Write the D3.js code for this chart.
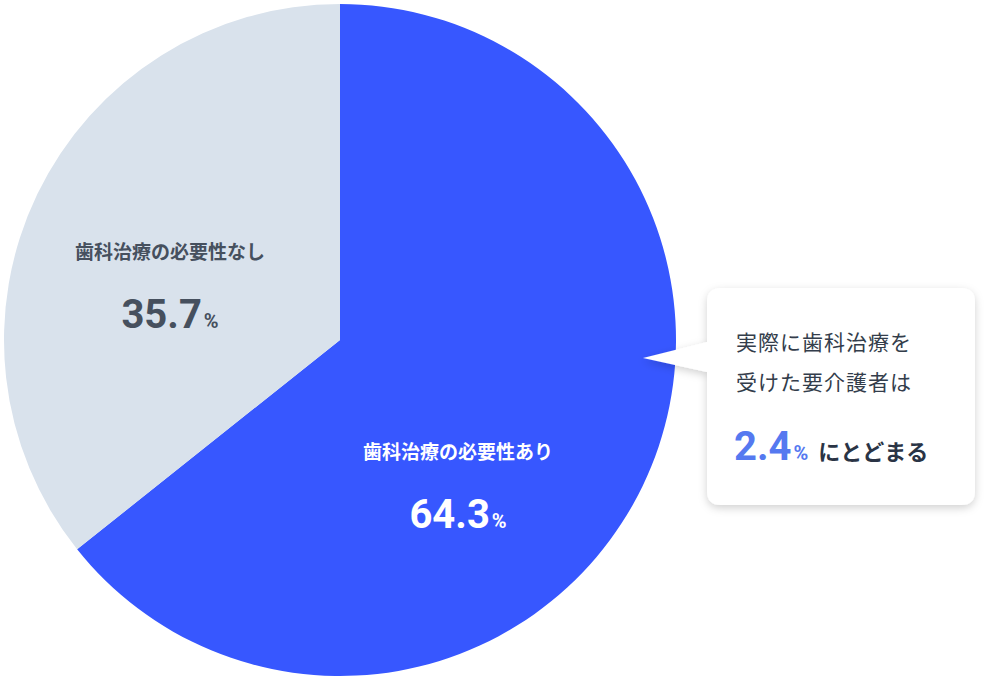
<!DOCTYPE html>
<html><head><meta charset="utf-8">
<script src="https://cdn.jsdelivr.net/npm/d3@7"></script>
<style>body{margin:0;background:#fff}svg{display:block}</style>
</head><body>
<svg id="c" width="984" height="680"></svg>
<script>
const categories = ["歯科治療の必要性あり", "歯科治療の必要性なし"];
const values = [64.3, 35.7];
const colors = ["#3757FF", "#D9E2EC"];
const calloutLines = ["実際に歯科治療を", "受けた要介護者は"];
const calloutValue = "2.4";
const calloutTail = "にとどまる";

const svg = d3.select("#c");
const font = "'Noto Sans CJK JP', 'Noto Sans', sans-serif";
const cx = 340, cy = 340, r = 336;
const pie = d3.pie().sort(null).value(d => d)(values);
const arc = d3.arc().innerRadius(0).outerRadius(r);
const g = svg.append("g").attr("transform", `translate(${cx},${cy})`);
g.selectAll("path").data(pie).join("path").attr("d", arc).attr("fill", (d, i) => colors[i]);

const labelPos = [{x: 458, y: 452, c: "#fff"}, {x: 170, y: 252, c: "#46505e"}];
pie.forEach((d, i) => {
  const p = labelPos[i];
  svg.append("text").attr("x", p.x).attr("y", p.y + 7).attr("text-anchor", "middle")
    .attr("font-family", font).attr("font-weight", 700).attr("font-size", 19).attr("fill", p.c)
    .text(categories[i]);
  const t = svg.append("text").attr("x", p.x).attr("y", p.y + 76).attr("text-anchor", "middle")
    .attr("font-family", "Roboto, 'Liberation Sans', sans-serif").attr("font-weight", 700).attr("fill", p.c);
  t.append("tspan").attr("font-size", 40).text(d.data.toFixed(1));
  t.append("tspan").attr("font-size", 20).attr("dx", 2).text("%");
});

// callout
const defs = svg.append("defs");
const f = defs.append("filter").attr("id", "sh").attr("x", "-20%").attr("y", "-20%").attr("width", "140%").attr("height", "140%");
f.append("feDropShadow").attr("dx", 0).attr("dy", 3).attr("stdDeviation", 4).attr("flood-color", "#000").attr("flood-opacity", 0.18);
const bx = 707, by = 288, bw = 268, bh = 217, rr = 14;
const path = `M${bx+rr},${by} H${bx+bw-rr} Q${bx+bw},${by} ${bx+bw},${by+rr} V${by+bh-rr} Q${bx+bw},${by+bh} ${bx+bw-rr},${by+bh} H${bx+rr} Q${bx},${by+bh} ${bx},${by+bh-rr} V372 L643,358 L${bx},342 V${by+rr} Q${bx},${by} ${bx+rr},${by} Z`;
svg.append("path").attr("d", path).attr("fill", "#fff").attr("filter", "url(#sh)");
calloutLines.forEach((l, i) => {
  svg.append("text").attr("x", 736).attr("y", 350 + i * 40).attr("font-family", font)
    .attr("font-size", 21).attr("fill", "#333d4b").attr("letter-spacing", 1).text(l);
});
const t2 = svg.append("text").attr("x", 734).attr("y", 460).attr("font-family", "Roboto, 'Liberation Sans', sans-serif").attr("font-weight", 700);
t2.append("tspan").attr("font-size", 40).attr("fill", "#5579F0").text(calloutValue);
t2.append("tspan").attr("font-size", 20).attr("fill", "#5579F0").attr("dx", 2).text("%");
t2.append("tspan").attr("font-size", 22).attr("fill", "#2a3445").attr("dx", 10).attr("font-family", font).text(calloutTail);
</script>
</body></html>
